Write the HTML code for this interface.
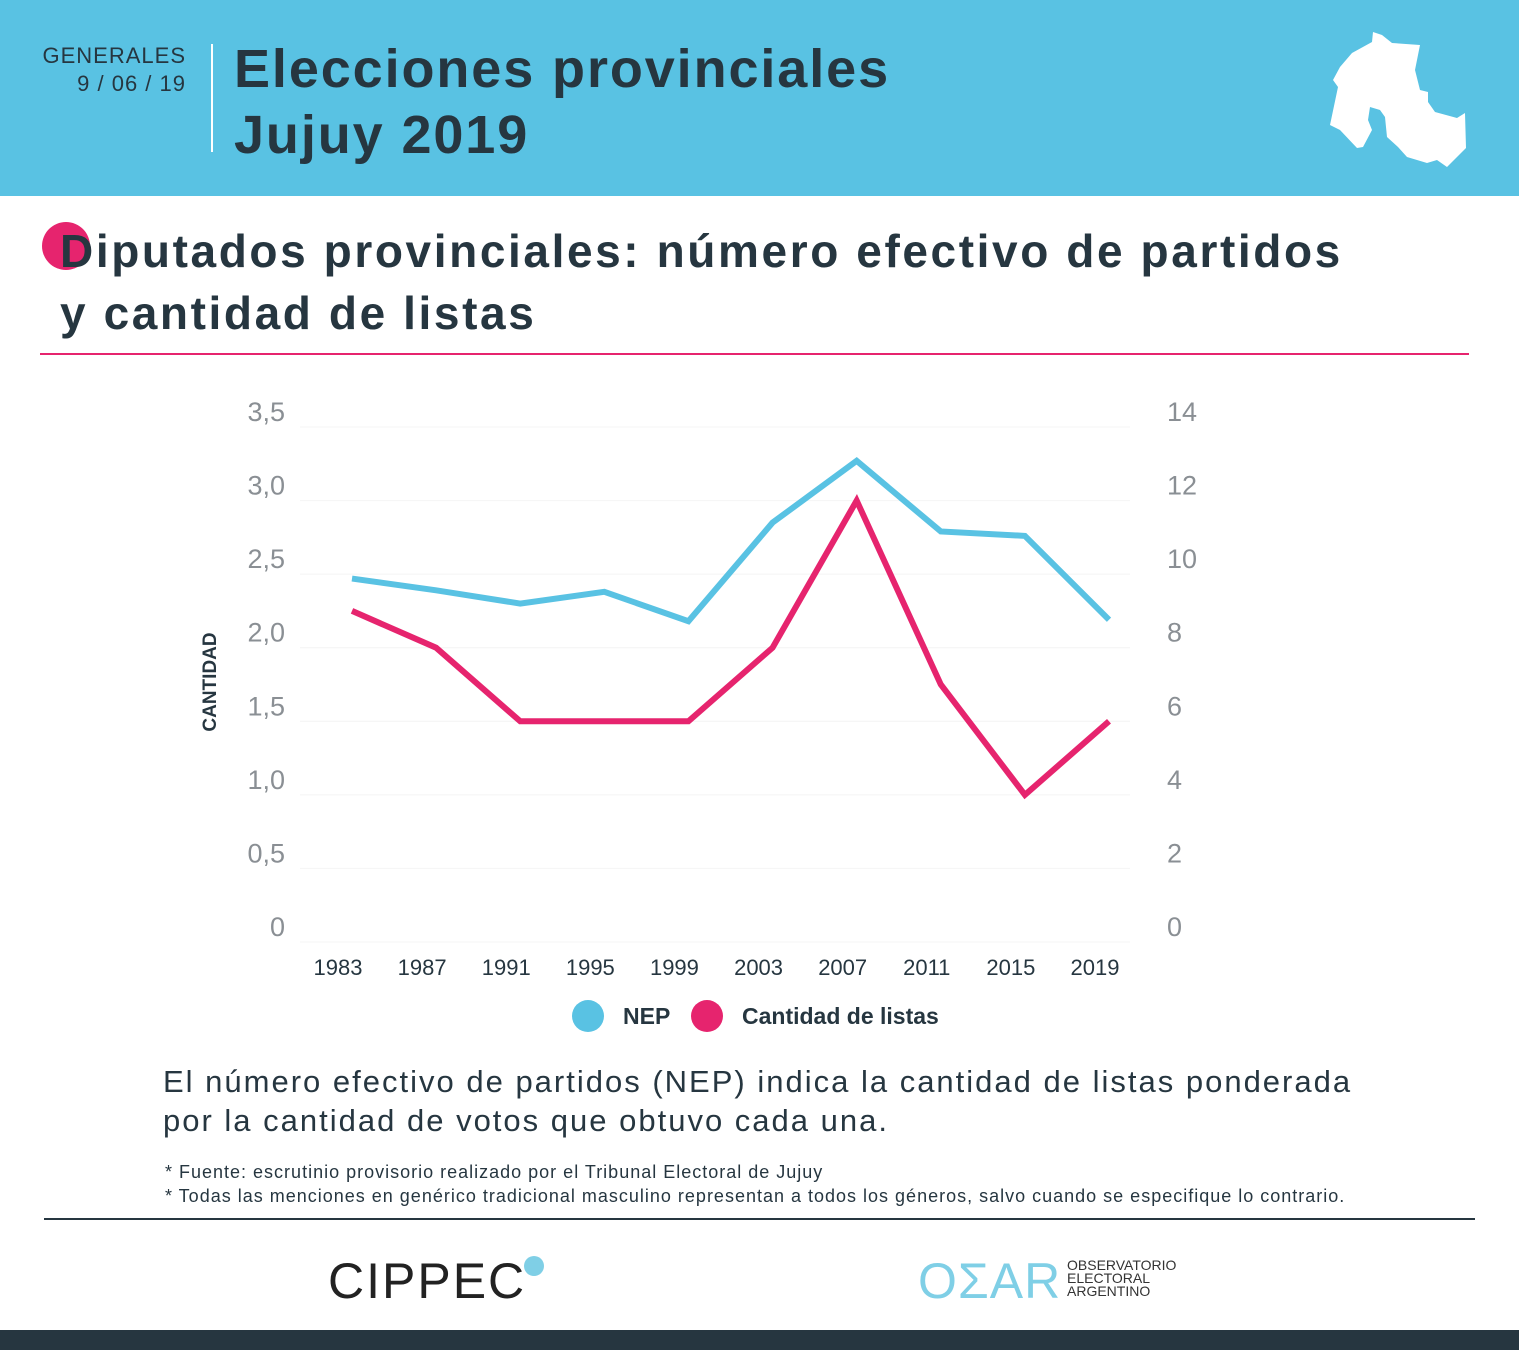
<!DOCTYPE html>
<html><head><meta charset="utf-8">
<style>
body{margin:0;width:1519px;height:1350px;position:relative;background:#fff;font-family:"Liberation Sans",sans-serif;overflow:hidden;color:#263640}
.abs{position:absolute}
</style></head><body>
<div class="abs" style="left:0;top:0;width:1519px;height:196px;background:#59c2e3"></div>
<div class="abs" style="left:40px;top:42px;width:146px;text-align:right;font-size:22px;line-height:28px;color:#263640;letter-spacing:1px">GENERALES<br>9 / 06 / 19</div>
<div class="abs" style="left:211px;top:44px;width:2px;height:108px;background:#fff"></div>
<div class="abs" style="left:234px;top:36px;font-size:54px;font-weight:bold;line-height:66px;color:#263640;letter-spacing:1.9px">Elecciones provinciales<br>Jujuy 2019</div>
<svg class="abs" style="left:0;top:0" width="1519" height="196"><polygon fill="#fff" points="1373,32 1382,35 1392,43 1420,45 1415,70 1420,90 1428,92 1428,102 1435,112 1457,118 1465,113 1466,148 1457,157 1447,167 1437,160 1427,163 1407,157 1398,147 1387,137 1385,117 1380,110 1370,107 1368,120 1372,130 1363,147 1357,148 1340,130 1330,125 1338,87 1333,80 1340,67 1352,53 1372,42"/></svg>
<div class="abs" style="left:42px;top:222px;width:48px;height:48px;border-radius:50%;background:#e6246e"></div>
<div class="abs" style="left:60px;top:220px;font-size:46px;font-weight:bold;line-height:62px;color:#263640;letter-spacing:2.6px">Diputados provinciales: número efectivo de partidos<br>y cantidad de listas</div>
<div class="abs" style="left:40px;top:353px;width:1429px;height:2px;background:#e6246e"></div>
<svg class="abs" id="chart" style="left:0;top:380px" width="1519" height="670"></svg>
<div class="abs" style="left:163px;top:1062px;font-size:31px;line-height:39px;color:#263640;letter-spacing:2px">El número efectivo de partidos (NEP) indica la cantidad de listas ponderada<br>por la cantidad de votos que obtuvo cada una.</div>
<div class="abs" style="left:165px;top:1160px;font-size:18px;line-height:24px;color:#263640;letter-spacing:1px">* Fuente: escrutinio provisorio realizado por el Tribunal Electoral de Jujuy<br>* Todas las menciones en genérico tradicional masculino representan a todos los géneros, salvo cuando se especifique lo contrario.</div>
<div class="abs" style="left:44px;top:1218px;width:1431px;height:2px;background:#263640"></div>
<div class="abs" style="left:328px;top:1252px;font-size:50px;font-weight:300;color:#222;letter-spacing:2px">CIPPEC</div>
<div class="abs" style="left:524px;top:1256px;width:20px;height:20px;border-radius:50%;background:#7fcfe6"></div>
<div class="abs" style="left:918px;top:1252px;font-size:50px;color:#7fcfe6;letter-spacing:1px">OΣAR</div>
<div class="abs" style="left:1067px;top:1259px;font-size:14px;line-height:13px;color:#333">OBSERVATORIO<br>ELECTORAL<br>ARGENTINO</div>
<div class="abs" style="left:0;top:1330px;width:1519px;height:20px;background:#263640"></div>
<script>
const years=["1983","1987","1991","1995","1999","2003","2007","2011","2015","2019"];
const nep=[2.47,2.39,2.30,2.38,2.18,2.85,3.27,2.79,2.76,2.19];
const listas=[9,8,6,6,6,8,12,7,4,6];
const leftTicks=["0","0,5","1,0","1,5","2,0","2,5","3,0","3,5"];
const rightTicks=["0","2","4","6","8","10","12","14"];
const svg=document.getElementById('chart');
const NS="http://www.w3.org/2000/svg";
const y0=562,yTop=47;
const yL=v=>y0-(v/3.5)*(y0-yTop);
const yR=v=>y0-(v/14)*(y0-yTop);
const xS=i=>352+i*(1109-352)/(years.length-1);
function mk(t,a){const e=document.createElementNS(NS,t);for(const k in a)e.setAttribute(k,a[k]);svg.appendChild(e);return e;}
leftTicks.forEach((t,i)=>{const v=i*0.5;const y=yL(v);
 const g=mk('line',{x1:300,x2:1130,y1:y,y2:y,stroke:'#f4f4f4','stroke-width':1});
 
 const l=mk('text',{x:285,y:y-6,'text-anchor':'end','font-size':27,fill:'#8a8f94','font-weight':300});l.textContent=t;
 });
rightTicks.forEach((t,i)=>{const y=yR(i*2);
 const l=mk('text',{x:1167,y:y-6,'font-size':27,fill:'#8a8f94'});l.textContent=t;
 });
years.forEach((t,i)=>{const l=mk('text',{x:xS(i)-14,y:595,'text-anchor':'middle','font-size':22,fill:'#263640'});l.textContent=t;
 });
const yt=mk('text',{x:0,y:0,transform:'translate(216,302) rotate(-90)','text-anchor':'middle','font-size':19,'font-weight':'bold',fill:'#263640'});yt.textContent='CANTIDAD';

const p1=mk('polyline',{points:nep.map((v,i)=>xS(i)+','+yL(v)).join(' '),fill:'none',stroke:'#59c2e3','stroke-width':6,'stroke-linejoin':'miter'});

const p2=mk('polyline',{points:listas.map((v,i)=>xS(i)+','+yR(v)).join(' '),fill:'none',stroke:'#e6246e','stroke-width':6});

const c1=mk('circle',{cx:588,cy:636,r:16,fill:'#59c2e3'});
const t1=mk('text',{x:623,y:644,'font-size':23,'font-weight':'bold',fill:'#263640'});t1.textContent='NEP';

const c2=mk('circle',{cx:707,cy:636,r:16,fill:'#e6246e'});
const t2=mk('text',{x:742,y:644,'font-size':23,'font-weight':'bold',fill:'#263640'});t2.textContent='Cantidad de listas';

</script>
</body></html>
